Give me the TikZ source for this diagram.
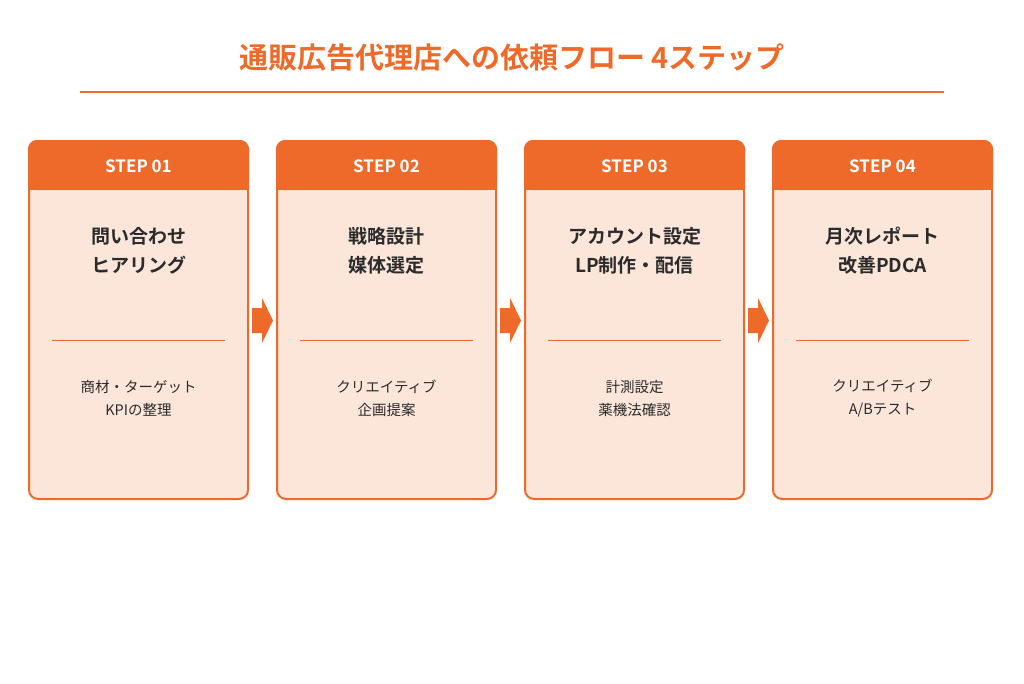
\documentclass[tikz,border=0pt]{standalone}
\usepackage{fontspec}
\setmainfont{Noto Sans CJK JP}[BoldFont={Noto Sans CJK JP Bold}]
\definecolor{org}{HTML}{EE6A2A}
\definecolor{peach}{HTML}{FCE6DA}
\definecolor{txt}{HTML}{2B2B2B}
\begin{document}
\begin{tikzpicture}[x=1pt,y=-1pt,
  stepcard/.style={draw=org,line width=2pt,fill=peach,rounded corners=9pt},
  head/.style={font=\bfseries\fontsize{17}{20}\selectfont,text=white},
  ttl/.style={font=\bfseries\fontsize{19}{29}\selectfont,text=txt,align=center},
  sub/.style={font=\fontsize{14.5}{23}\selectfont,text=txt,align=center}]
\useasboundingbox (0,0) rectangle (1024,683);
\node[font=\bfseries\fontsize{29}{32}\selectfont,text=org] (title) at (512,57) {通販広告代理店への依頼フロー 4ステップ};
\draw[org,line width=1.2pt] (80,92) -- (944,92);
\foreach \i/\h/\t/\s in {0/STEP 01/{問い合わせ\\ヒアリング}/{商材・ターゲット\\KPIの整理},
 1/STEP 02/{戦略設計\\媒体選定}/{クリエイティブ\\企画提案},
 2/STEP 03/{アカウント設定\\LP制作・配信}/{計測設定\\薬機法確認},
 3/STEP 04/{月次レポート\\改善PDCA}/{クリエイティブ\\A/Bテスト}}{
  \pgfmathsetmacro\xl{29+248*\i}
  \pgfmathsetmacro\xc{\xl+109.5}
  \draw[stepcard] (\xl,141) rectangle ++(219,358);
  \fill[org,rounded corners=9pt] (\xl-1,140) -- (\xl+220,140) -- (\xl+220,190) -- (\xl-1,190) -- cycle;
  \fill[org] (\xl-1,170) rectangle (\xl+220,190);
  \node[head] (h\i) at (\xc,166) {\h};
  \node[ttl] (t\i) at (\xc,251) {\t};
  \draw[org,line width=0.7pt] (\xl+23,340) -- (\xl+196,340);
  \node[sub] (s\i) at (\xc,398.5) {\s};
}
\foreach \i in {0,1,2}{
  \pgfmathsetmacro\ax{252+248*\i}
  \fill[org] (\ax,308) -- (\ax+10,308) -- (\ax+10,298) -- (\ax+21,320.5) -- (\ax+10,343) -- (\ax+10,333) -- (\ax,333) -- cycle;
}
\end{tikzpicture}
\end{document}
